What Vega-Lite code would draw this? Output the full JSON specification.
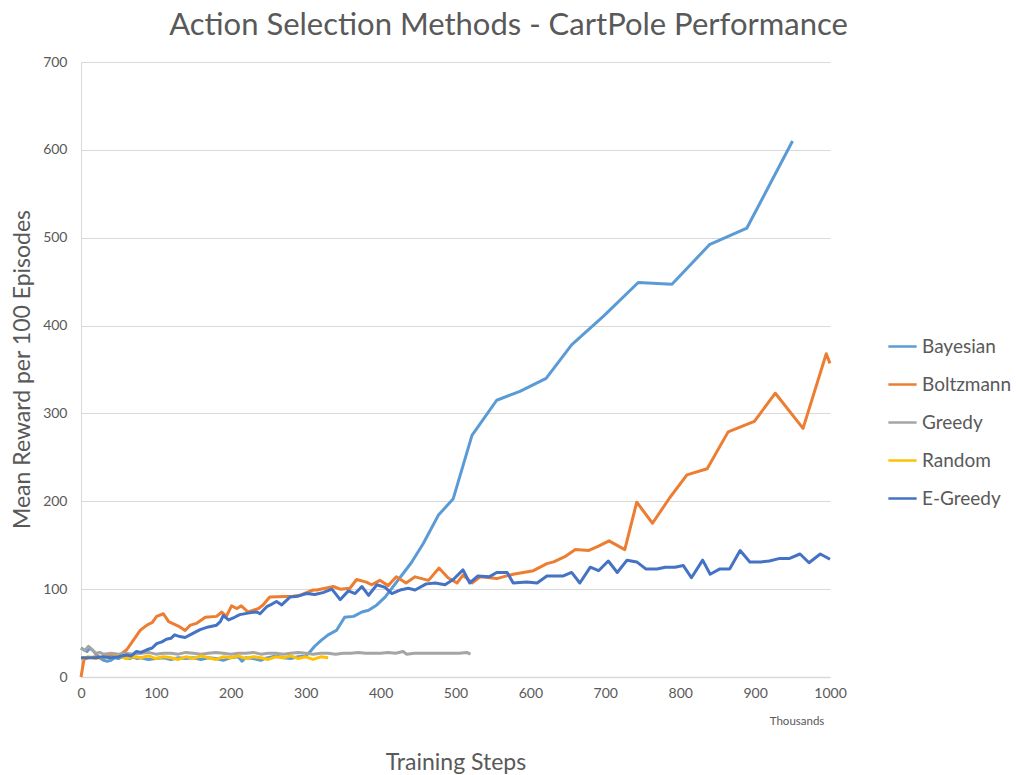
{
"$schema": "https://vega.github.io/schema/vega-lite/v6.json",
"autosize": {"type": "none"},
"padding": {"left": 81, "top": 62, "right": 186, "bottom": 98},
"width": 749,
"height": 615,
"background": "white",
"config": {"view": {"stroke": null}, "font": "Lato"},
"title": {"text": "Action Selection Methods - CartPole Performance", "fontSize": 31, "font": "Lato", "fontWeight": "normal", "color": "#595959", "anchor": "middle", "frame": "group", "dx": 53, "offset": 13},
"data": {"values": [
{"s":"Bayesian","x":0,"y":33},{"s":"Bayesian","x":4,"y":31},{"s":"Bayesian","x":8,"y":29},{"s":"Bayesian","x":12,"y":33},{"s":"Bayesian","x":16,"y":30},{"s":"Bayesian","x":20,"y":26},{"s":"Bayesian","x":25,"y":22},{"s":"Bayesian","x":30,"y":19},{"s":"Bayesian","x":35,"y":18},{"s":"Bayesian","x":40,"y":19},{"s":"Bayesian","x":45,"y":22},{"s":"Bayesian","x":50,"y":21},{"s":"Bayesian","x":55,"y":23},{"s":"Bayesian","x":60,"y":22},{"s":"Bayesian","x":65,"y":21},{"s":"Bayesian","x":70,"y":23},{"s":"Bayesian","x":75,"y":21},{"s":"Bayesian","x":80,"y":22},{"s":"Bayesian","x":90,"y":20},{"s":"Bayesian","x":100,"y":21},{"s":"Bayesian","x":110,"y":22},{"s":"Bayesian","x":120,"y":20},{"s":"Bayesian","x":130,"y":22},{"s":"Bayesian","x":140,"y":21},{"s":"Bayesian","x":150,"y":22},{"s":"Bayesian","x":160,"y":20},{"s":"Bayesian","x":170,"y":22},{"s":"Bayesian","x":180,"y":21},{"s":"Bayesian","x":190,"y":19},{"s":"Bayesian","x":200,"y":22},{"s":"Bayesian","x":210,"y":23},{"s":"Bayesian","x":215,"y":18},{"s":"Bayesian","x":220,"y":22},{"s":"Bayesian","x":230,"y":21},{"s":"Bayesian","x":240,"y":19},{"s":"Bayesian","x":245,"y":21},{"s":"Bayesian","x":250,"y":22},{"s":"Bayesian","x":260,"y":24},{"s":"Bayesian","x":270,"y":22},{"s":"Bayesian","x":280,"y":21},{"s":"Bayesian","x":290,"y":23},{"s":"Bayesian","x":300,"y":24},{"s":"Bayesian","x":306,"y":29},{"s":"Bayesian","x":312,"y":35},{"s":"Bayesian","x":321,"y":42},{"s":"Bayesian","x":330,"y":48},{"s":"Bayesian","x":341,"y":53},{"s":"Bayesian","x":352,"y":68},{"s":"Bayesian","x":364,"y":69},{"s":"Bayesian","x":375,"y":74},{"s":"Bayesian","x":384,"y":76},{"s":"Bayesian","x":395,"y":82},{"s":"Bayesian","x":406,"y":91},{"s":"Bayesian","x":441,"y":130},{"s":"Bayesian","x":457,"y":152},{"s":"Bayesian","x":477,"y":184},{"s":"Bayesian","x":497,"y":203},{"s":"Bayesian","x":522,"y":275},{"s":"Bayesian","x":555,"y":315},{"s":"Bayesian","x":586,"y":325},{"s":"Bayesian","x":621,"y":340},{"s":"Bayesian","x":655,"y":378},{"s":"Bayesian","x":698,"y":411},{"s":"Bayesian","x":744,"y":449},{"s":"Bayesian","x":789,"y":447},{"s":"Bayesian","x":839,"y":492},{"s":"Bayesian","x":889,"y":511},{"s":"Bayesian","x":950,"y":610},
{"s":"Boltzmann","x":0,"y":0},{"s":"Boltzmann","x":4,"y":20},{"s":"Boltzmann","x":10,"y":22},{"s":"Boltzmann","x":20,"y":23},{"s":"Boltzmann","x":30,"y":22},{"s":"Boltzmann","x":40,"y":25},{"s":"Boltzmann","x":50,"y":24},{"s":"Boltzmann","x":55,"y":27},{"s":"Boltzmann","x":61,"y":31},{"s":"Boltzmann","x":70,"y":42},{"s":"Boltzmann","x":79,"y":53},{"s":"Boltzmann","x":88,"y":59},{"s":"Boltzmann","x":95,"y":62},{"s":"Boltzmann","x":101,"y":69},{"s":"Boltzmann","x":110,"y":72},{"s":"Boltzmann","x":117,"y":63},{"s":"Boltzmann","x":130,"y":58},{"s":"Boltzmann","x":139,"y":53},{"s":"Boltzmann","x":146,"y":59},{"s":"Boltzmann","x":154,"y":61},{"s":"Boltzmann","x":166,"y":68},{"s":"Boltzmann","x":181,"y":69},{"s":"Boltzmann","x":188,"y":74},{"s":"Boltzmann","x":194,"y":69},{"s":"Boltzmann","x":201,"y":81},{"s":"Boltzmann","x":208,"y":78},{"s":"Boltzmann","x":214,"y":81},{"s":"Boltzmann","x":223,"y":74},{"s":"Boltzmann","x":237,"y":78},{"s":"Boltzmann","x":243,"y":82},{"s":"Boltzmann","x":252,"y":91},{"s":"Boltzmann","x":283,"y":92},{"s":"Boltzmann","x":292,"y":93},{"s":"Boltzmann","x":310,"y":99},{"s":"Boltzmann","x":315,"y":99},{"s":"Boltzmann","x":337,"y":103},{"s":"Boltzmann","x":346,"y":100},{"s":"Boltzmann","x":359,"y":101},{"s":"Boltzmann","x":368,"y":111},{"s":"Boltzmann","x":381,"y":108},{"s":"Boltzmann","x":388,"y":105},{"s":"Boltzmann","x":399,"y":110},{"s":"Boltzmann","x":410,"y":104},{"s":"Boltzmann","x":421,"y":114},{"s":"Boltzmann","x":434,"y":107},{"s":"Boltzmann","x":446,"y":114},{"s":"Boltzmann","x":464,"y":110},{"s":"Boltzmann","x":478,"y":124},{"s":"Boltzmann","x":490,"y":113},{"s":"Boltzmann","x":502,"y":107},{"s":"Boltzmann","x":510,"y":116},{"s":"Boltzmann","x":522,"y":107},{"s":"Boltzmann","x":533,"y":114},{"s":"Boltzmann","x":555,"y":112},{"s":"Boltzmann","x":577,"y":117},{"s":"Boltzmann","x":604,"y":121},{"s":"Boltzmann","x":622,"y":129},{"s":"Boltzmann","x":631,"y":131},{"s":"Boltzmann","x":646,"y":137},{"s":"Boltzmann","x":660,"y":145},{"s":"Boltzmann","x":678,"y":144},{"s":"Boltzmann","x":691,"y":149},{"s":"Boltzmann","x":705,"y":155},{"s":"Boltzmann","x":726,"y":145},{"s":"Boltzmann","x":742,"y":199},{"s":"Boltzmann","x":763,"y":175},{"s":"Boltzmann","x":786,"y":204},{"s":"Boltzmann","x":809,"y":230},{"s":"Boltzmann","x":836,"y":237},{"s":"Boltzmann","x":864,"y":279},{"s":"Boltzmann","x":899,"y":291},{"s":"Boltzmann","x":927,"y":323},{"s":"Boltzmann","x":964,"y":283},{"s":"Boltzmann","x":995,"y":368},{"s":"Boltzmann","x":1000,"y":357},
{"s":"Greedy","x":0,"y":33},{"s":"Greedy","x":5,"y":30},{"s":"Greedy","x":10,"y":35},{"s":"Greedy","x":15,"y":31},{"s":"Greedy","x":20,"y":27},{"s":"Greedy","x":25,"y":28},{"s":"Greedy","x":30,"y":26},{"s":"Greedy","x":40,"y":27},{"s":"Greedy","x":50,"y":26},{"s":"Greedy","x":60,"y":27},{"s":"Greedy","x":70,"y":26},{"s":"Greedy","x":80,"y":27},{"s":"Greedy","x":90,"y":28},{"s":"Greedy","x":100,"y":26},{"s":"Greedy","x":110,"y":27},{"s":"Greedy","x":120,"y":27},{"s":"Greedy","x":130,"y":26},{"s":"Greedy","x":140,"y":28},{"s":"Greedy","x":150,"y":27},{"s":"Greedy","x":160,"y":26},{"s":"Greedy","x":170,"y":27},{"s":"Greedy","x":180,"y":28},{"s":"Greedy","x":190,"y":27},{"s":"Greedy","x":200,"y":26},{"s":"Greedy","x":210,"y":27},{"s":"Greedy","x":220,"y":27},{"s":"Greedy","x":230,"y":28},{"s":"Greedy","x":240,"y":26},{"s":"Greedy","x":250,"y":27},{"s":"Greedy","x":260,"y":27},{"s":"Greedy","x":270,"y":26},{"s":"Greedy","x":280,"y":27},{"s":"Greedy","x":290,"y":28},{"s":"Greedy","x":300,"y":27},{"s":"Greedy","x":310,"y":26},{"s":"Greedy","x":320,"y":27},{"s":"Greedy","x":330,"y":27},{"s":"Greedy","x":340,"y":26},{"s":"Greedy","x":350,"y":27},{"s":"Greedy","x":360,"y":27},{"s":"Greedy","x":370,"y":28},{"s":"Greedy","x":380,"y":27},{"s":"Greedy","x":390,"y":27},{"s":"Greedy","x":400,"y":27},{"s":"Greedy","x":410,"y":28},{"s":"Greedy","x":420,"y":27},{"s":"Greedy","x":430,"y":29},{"s":"Greedy","x":435,"y":26},{"s":"Greedy","x":445,"y":27},{"s":"Greedy","x":460,"y":27},{"s":"Greedy","x":475,"y":27},{"s":"Greedy","x":490,"y":27},{"s":"Greedy","x":505,"y":27},{"s":"Greedy","x":515,"y":28},{"s":"Greedy","x":520,"y":26},
{"s":"Random","x":0,"y":21},{"s":"Random","x":5,"y":22},{"s":"Random","x":10,"y":23},{"s":"Random","x":15,"y":22},{"s":"Random","x":20,"y":21},{"s":"Random","x":30,"y":23},{"s":"Random","x":40,"y":22},{"s":"Random","x":50,"y":24},{"s":"Random","x":60,"y":21},{"s":"Random","x":70,"y":23},{"s":"Random","x":80,"y":22},{"s":"Random","x":90,"y":24},{"s":"Random","x":100,"y":21},{"s":"Random","x":110,"y":23},{"s":"Random","x":120,"y":22},{"s":"Random","x":130,"y":20},{"s":"Random","x":140,"y":23},{"s":"Random","x":150,"y":21},{"s":"Random","x":160,"y":24},{"s":"Random","x":170,"y":22},{"s":"Random","x":180,"y":20},{"s":"Random","x":190,"y":23},{"s":"Random","x":200,"y":22},{"s":"Random","x":210,"y":24},{"s":"Random","x":220,"y":21},{"s":"Random","x":230,"y":23},{"s":"Random","x":240,"y":22},{"s":"Random","x":250,"y":20},{"s":"Random","x":260,"y":23},{"s":"Random","x":270,"y":22},{"s":"Random","x":280,"y":24},{"s":"Random","x":290,"y":21},{"s":"Random","x":300,"y":23},{"s":"Random","x":310,"y":20},{"s":"Random","x":320,"y":23},{"s":"Random","x":330,"y":22},
{"s":"E-Greedy","x":0,"y":22},{"s":"E-Greedy","x":10,"y":22},{"s":"E-Greedy","x":20,"y":22},{"s":"E-Greedy","x":30,"y":23},{"s":"E-Greedy","x":40,"y":22},{"s":"E-Greedy","x":50,"y":23},{"s":"E-Greedy","x":61,"y":25},{"s":"E-Greedy","x":67,"y":24},{"s":"E-Greedy","x":74,"y":29},{"s":"E-Greedy","x":80,"y":28},{"s":"E-Greedy","x":88,"y":31},{"s":"E-Greedy","x":95,"y":33},{"s":"E-Greedy","x":101,"y":38},{"s":"E-Greedy","x":108,"y":40},{"s":"E-Greedy","x":114,"y":43},{"s":"E-Greedy","x":120,"y":44},{"s":"E-Greedy","x":125,"y":48},{"s":"E-Greedy","x":132,"y":46},{"s":"E-Greedy","x":139,"y":45},{"s":"E-Greedy","x":150,"y":50},{"s":"E-Greedy","x":159,"y":54},{"s":"E-Greedy","x":170,"y":57},{"s":"E-Greedy","x":181,"y":59},{"s":"E-Greedy","x":186,"y":63},{"s":"E-Greedy","x":190,"y":70},{"s":"E-Greedy","x":197,"y":65},{"s":"E-Greedy","x":205,"y":68},{"s":"E-Greedy","x":212,"y":71},{"s":"E-Greedy","x":225,"y":73},{"s":"E-Greedy","x":235,"y":74},{"s":"E-Greedy","x":239,"y":72},{"s":"E-Greedy","x":248,"y":80},{"s":"E-Greedy","x":255,"y":83},{"s":"E-Greedy","x":261,"y":86},{"s":"E-Greedy","x":268,"y":82},{"s":"E-Greedy","x":279,"y":91},{"s":"E-Greedy","x":290,"y":92},{"s":"E-Greedy","x":301,"y":95},{"s":"E-Greedy","x":312,"y":94},{"s":"E-Greedy","x":323,"y":96},{"s":"E-Greedy","x":335,"y":100},{"s":"E-Greedy","x":346,"y":88},{"s":"E-Greedy","x":357,"y":98},{"s":"E-Greedy","x":366,"y":95},{"s":"E-Greedy","x":375,"y":103},{"s":"E-Greedy","x":384,"y":93},{"s":"E-Greedy","x":395,"y":105},{"s":"E-Greedy","x":406,"y":102},{"s":"E-Greedy","x":415,"y":95},{"s":"E-Greedy","x":426,"y":99},{"s":"E-Greedy","x":437,"y":101},{"s":"E-Greedy","x":446,"y":99},{"s":"E-Greedy","x":461,"y":106},{"s":"E-Greedy","x":473,"y":107},{"s":"E-Greedy","x":486,"y":105},{"s":"E-Greedy","x":497,"y":111},{"s":"E-Greedy","x":510,"y":122},{"s":"E-Greedy","x":519,"y":107},{"s":"E-Greedy","x":530,"y":115},{"s":"E-Greedy","x":545,"y":114},{"s":"E-Greedy","x":555,"y":119},{"s":"E-Greedy","x":569,"y":119},{"s":"E-Greedy","x":577,"y":107},{"s":"E-Greedy","x":595,"y":108},{"s":"E-Greedy","x":609,"y":107},{"s":"E-Greedy","x":622,"y":115},{"s":"E-Greedy","x":644,"y":115},{"s":"E-Greedy","x":655,"y":119},{"s":"E-Greedy","x":666,"y":107},{"s":"E-Greedy","x":680,"y":125},{"s":"E-Greedy","x":691,"y":121},{"s":"E-Greedy","x":704,"y":132},{"s":"E-Greedy","x":716,"y":119},{"s":"E-Greedy","x":729,"y":133},{"s":"E-Greedy","x":742,"y":131},{"s":"E-Greedy","x":754,"y":123},{"s":"E-Greedy","x":769,"y":123},{"s":"E-Greedy","x":780,"y":125},{"s":"E-Greedy","x":793,"y":125},{"s":"E-Greedy","x":804,"y":127},{"s":"E-Greedy","x":815,"y":113},{"s":"E-Greedy","x":830,"y":133},{"s":"E-Greedy","x":840,"y":117},{"s":"E-Greedy","x":853,"y":123},{"s":"E-Greedy","x":866,"y":123},{"s":"E-Greedy","x":880,"y":144},{"s":"E-Greedy","x":893,"y":131},{"s":"E-Greedy","x":908,"y":131},{"s":"E-Greedy","x":919,"y":132},{"s":"E-Greedy","x":933,"y":135},{"s":"E-Greedy","x":946,"y":135},{"s":"E-Greedy","x":960,"y":140},{"s":"E-Greedy","x":972,"y":130},{"s":"E-Greedy","x":987,"y":140},{"s":"E-Greedy","x":1000,"y":134}
]},
"layer": [
{
"mark": {"type": "line", "strokeWidth": 3, "strokeJoin": "round", "clip": false},
"encoding": {
"x": {"field": "x", "type": "quantitative", "scale": {"domain": [0, 1000], "nice": false},
"axis": {"values": [0,100,200,300,400,500,600,700,800,900,1000], "format": "d", "labelFlush": false, "labelOverlap": false, "grid": false, "ticks": false, "domain": true, "domainColor": "#D9D9D9", "domainWidth": 1.5, "labelFont": "Lato", "labelFontSize": 14, "labelColor": "#595959", "labelPadding": 9, "title": "Training Steps", "titleFont": "Lato", "titleFontSize": 23, "titleFontWeight": "normal", "titleColor": "#595959", "titleY": 85, "titleBaseline": "middle"}},
"y": {"field": "y", "type": "quantitative", "scale": {"domain": [0, 700], "nice": false},
"axis": {"values": [0,100,200,300,400,500,600,700], "format": "d", "labelFlush": false, "grid": true, "gridColor": "#D9D9D9", "gridWidth": 1, "ticks": false, "domain": true, "domainColor": "#D9D9D9", "labelFont": "Lato", "labelFontSize": 14, "labelColor": "#595959", "labelPadding": 14, "title": "Mean Reward per 100 Episodes", "titleFont": "Lato", "titleFontSize": 23, "titleFontWeight": "normal", "titleColor": "#595959", "titleX": -59, "titleY": 307, "titleAngle": -90, "titleAlign": "center", "titleBaseline": "middle"}},
"color": {"field": "s", "type": "nominal",
"scale": {"domain": ["Bayesian", "Boltzmann", "Greedy", "Random", "E-Greedy"], "range": ["#5B9BD5", "#ED7D31", "#A5A5A5", "#FFC000", "#4472C4"]},
"legend": {"title": null, "orient": "none", "legendX": 806, "legendY": 269, "symbolType": "stroke", "symbolStrokeWidth": 2.5, "symbolSize": 800, "labelFont": "Lato", "labelFontSize": 19, "labelColor": "#595959", "labelOffset": 4, "rowPadding": 12}},
"order": {"field": "x", "type": "quantitative"}
}
},
{
"data": {"values": [{"label": "Thousands"}]},
"mark": {"type": "text", "font": "Lato", "fontSize": 11.5, "color": "#595959", "clip": false},
"encoding": {"text": {"field": "label"}, "x": {"datum": 956}, "y": {"datum": -51}}
}
]
}
